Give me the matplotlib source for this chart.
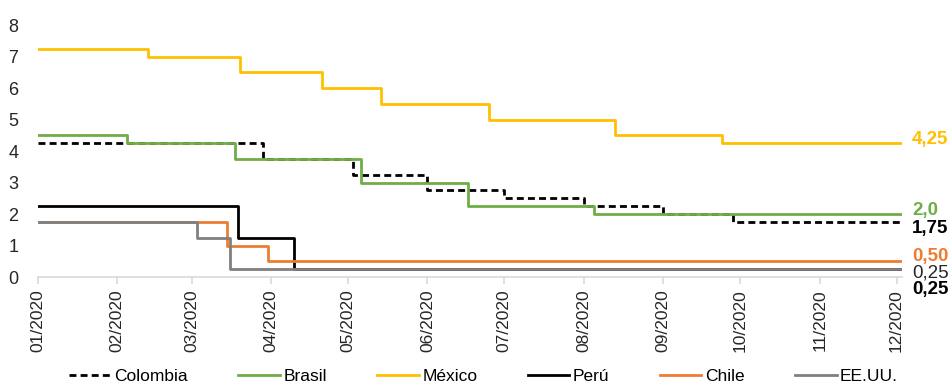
import pandas as pd
import matplotlib.pyplot as plt
import matplotlib.dates as mdates

plt.rcParams['font.family'] = ['Liberation Sans', 'DejaVu Sans']

# Fechas de cambio de tasa y valores (tasa de política monetaria, %)
fin = '2020-12-03'

colombia_fechas = ['2020-01-01', '2020-03-29', '2020-05-03', '2020-06-01', '2020-07-01', '2020-08-01', '2020-09-01', '2020-09-28']
colombia_tasas = [4.25, 3.75, 3.25, 2.75, 2.50, 2.25, 2.00, 1.75]

brasil_fechas = ['2020-01-01', '2020-02-05', '2020-03-18', '2020-05-06', '2020-06-17', '2020-08-05']
brasil_tasas = [4.50, 4.25, 3.75, 3.00, 2.25, 2.00]

mexico_fechas = ['2020-01-01', '2020-02-13', '2020-03-20', '2020-04-21', '2020-05-14', '2020-06-25', '2020-08-13', '2020-09-24']
mexico_tasas = [7.25, 7.00, 6.50, 6.00, 5.50, 5.00, 4.50, 4.25]

peru_fechas = ['2020-01-01', '2020-03-19', '2020-04-10']
peru_tasas = [2.25, 1.25, 0.25]

chile_fechas = ['2020-01-01', '2020-03-15', '2020-03-31']
chile_tasas = [1.75, 1.00, 0.50]

eeuu_fechas = ['2020-01-01', '2020-03-03', '2020-03-16']
eeuu_tasas = [1.75, 1.25, 0.25]

series = [
    ('Colombia', colombia_fechas, colombia_tasas, 'black', '--'),
    ('Brasil', brasil_fechas, brasil_tasas, '#70AD47', '-'),
    ('México', mexico_fechas, mexico_tasas, '#FFC000', '-'),
    ('Perú', peru_fechas, peru_tasas, 'black', '-'),
    ('Chile', chile_fechas, chile_tasas, '#ED7D31', '-'),
    ('EE.UU.', eeuu_fechas, eeuu_tasas, '#808080', '-'),
]

# Etiquetas del último dato
etiquetas = [
    ('4,25', 4.36, '#FFC000', 'bold'),
    ('2,0', 2.10, '#70AD47', 'bold'),
    ('1,75', 1.53, 'black', 'bold'),
    ('0,50', 0.64, '#ED7D31', 'bold'),
    ('0,25', 0.13, '#262626', 'normal'),
    ('0,25', -0.41, 'black', 'bold'),
]

fig = plt.figure(figsize=(9.5, 3.84), dpi=100)
ax = fig.add_axes([0.0397, 0.2786, 0.9095, 0.656])

for nombre, fechas, tasas, color, estilo in series:
    x = pd.to_datetime(fechas + [fin])
    y = tasas + [tasas[-1]]
    ax.plot(x, y, drawstyle='steps-post', color=color, linestyle=estilo,
            linewidth=2, label=nombre, dashes=(2.5, 1.5) if estilo == '--' else (None, None))

ax.set_xlim(pd.Timestamp('2020-01-01'), pd.Timestamp(fin))
ax.set_ylim(0, 8)
ax.set_yticks(range(0, 9))

ax.xaxis.set_major_locator(mdates.MonthLocator())
ax.xaxis.set_major_formatter(mdates.DateFormatter('%m/%Y'))
plt.setp(ax.get_xticklabels(), rotation=90)

for s in ['top', 'right', 'left']:
    ax.spines[s].set_visible(False)
ax.spines['bottom'].set_color('#d9d9d9')
ax.spines['bottom'].set_linewidth(1.2)
ax.tick_params(axis='x', colors='#d9d9d9', length=5, width=1.2, labelsize=12.5,
               labelcolor='#262626', pad=4)
ax.tick_params(axis='y', length=0, labelsize=13, labelcolor='#262626', pad=14)

xe = pd.Timestamp('2020-12-07')
for texto, yv, color, peso in etiquetas:
    ax.text(xe, yv, texto, color=color, fontweight=peso, fontsize=13.5,
            va='center', ha='left', clip_on=False)

fig.legend(loc='center', bbox_to_anchor=(0.509, 0.02), ncol=6, frameon=False,
           fontsize=12.5, handlelength=2.4, handletextpad=0.2, columnspacing=2.9)

fig.savefig('out.png', dpi=100)
